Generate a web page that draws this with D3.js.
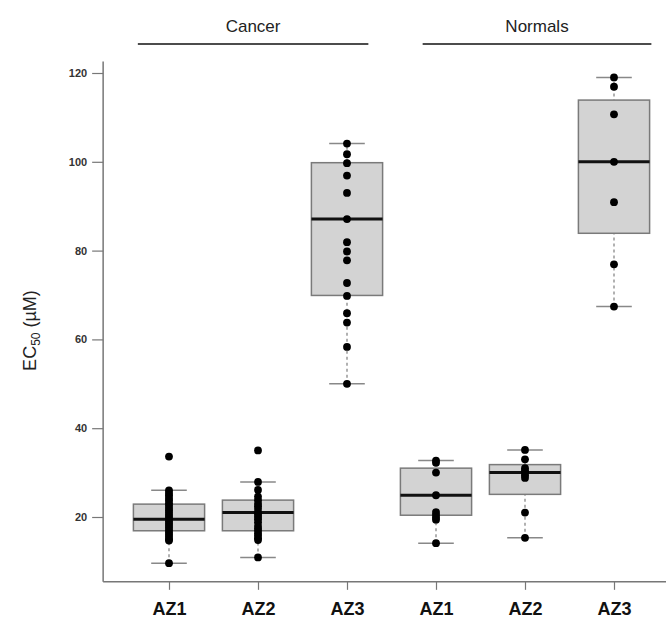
<!DOCTYPE html>
<html>
<head>
<meta charset="utf-8">
<script src="https://cdn.jsdelivr.net/npm/d3@7"></script>
<style>
  body { margin: 0; background: #fff; }
  svg { display: block; font-family: "Liberation Sans", Arial, sans-serif; }
</style>
</head>
<body>
<div id="wrapper"></div>
<script>
// categories along the x axis (group, compound)
const compounds = ["AZ1", "AZ2", "AZ3", "AZ1", "AZ2", "AZ3"]
const groups = [
  { name: "Cancer", from: 0.65, to: 3.24 },
  { name: "Normals", from: 3.85, to: 6.42 }
]

// box statistics: [whiskerLow, q1, median, q3, whiskerHigh]
const boxStats = [
  [9.6, 16.9, 19.5, 22.9, 26.0],
  [10.9, 16.9, 21.0, 23.8, 27.9],
  [50.0, 69.9, 87.1, 99.8, 104.1],
  [14.1, 20.4, 24.9, 31.0, 32.7],
  [15.3, 25.1, 30.0, 31.8, 35.1],
  [67.4, 83.9, 100.0, 113.9, 119.0]
]

// individual EC50 values (µM)
const cancerAZ1 = [33.6, 26.0, 25.4, 24.9, 24.3, 23.8, 23.1, 22.6, 22.0, 21.5, 21.0, 20.5,
  20.0, 19.5, 19.0, 18.5, 18.0, 17.5, 17.0, 16.5, 16.0, 15.5, 15.0, 14.7, 9.6]
const cancerAZ2 = [35.0, 27.9, 26.1, 24.6, 23.8, 23.0, 22.4, 21.8, 21.0, 20.5, 20.0, 19.5,
  18.8, 18.0, 17.4, 16.9, 16.3, 15.8, 15.2, 14.8, 10.9]
const cancerAZ3 = [104.1, 101.7, 99.7, 96.9, 93.0, 87.1, 81.9, 79.8, 77.8, 72.7, 69.8,
  65.9, 63.8, 58.3, 50.0]
const normalAZ1 = [32.7, 32.2, 30.0, 24.9, 21.1, 20.5, 19.9, 19.4, 14.1]
const normalAZ2 = [35.1, 33.0, 31.0, 30.4, 30.0, 29.4, 28.8, 21.0, 15.3]
const normalAZ3 = [119.0, 116.9, 110.7, 100.0, 90.9, 76.9, 67.4]
const points = [cancerAZ1, cancerAZ2, cancerAZ3, normalAZ1, normalAZ2, normalAZ3]

const yTicks = [20, 40, 60, 80, 100, 120]

const width = 666
const height = 630

const svg = d3.select("#wrapper")
  .append("svg")
    .attr("width", width)
    .attr("height", height)

const xScale = d3.scaleLinear()
    .domain([1, 6])
    .range([169, 614])

const yScale = d3.scaleLinear()
    .domain([20, 120])
    .range([517, 73])

const boxW = 0.8
const capW = 0.4
const xLo = 0.26, xHi = 6.74
const yLo = 5.4, yHi = 122.6

// axes
const yAxis = svg.append("g")
    .attr("transform", `translate(${xScale(xLo)},0)`)
    .call(d3.axisLeft(yScale).tickValues(yTicks).tickSize(11).tickPadding(5).tickSizeOuter(0))
yAxis.select(".domain").remove()
yAxis.append("line")
    .attr("y1", yScale(yLo)).attr("y2", yScale(yHi))
    .attr("stroke", "#777").attr("stroke-width", 1.5)
yAxis.selectAll(".tick line").attr("stroke", "#777").attr("stroke-width", 1.2)
yAxis.selectAll(".tick text")
    .attr("fill", "#333")
    .style("font-size", "11px")
    .style("font-weight", "bold")

const xAxis = svg.append("g")
    .attr("transform", `translate(0,${yScale(yLo)})`)
    .call(d3.axisBottom(xScale).tickValues(d3.range(1, 7)).tickFormat(i => compounds[i - 1])
      .tickSize(8).tickPadding(12).tickSizeOuter(0))
xAxis.select(".domain").remove()
xAxis.append("line")
    .attr("x1", xScale(xLo)).attr("x2", xScale(xHi))
    .attr("stroke", "#777").attr("stroke-width", 1.5)
xAxis.selectAll(".tick line").attr("stroke", "#777").attr("stroke-width", 1.2)
xAxis.selectAll(".tick text")
    .attr("fill", "#111")
    .style("font-size", "18px")
    .style("font-weight", "bold")

// y title
const yTitle = svg.append("text")
    .attr("transform", `translate(36,${yScale(62)}) rotate(-90)`)
    .attr("text-anchor", "middle")
    .attr("fill", "#222")
    .style("font-size", "18px")
yTitle.append("tspan").text("EC")
yTitle.append("tspan").attr("dy", 4).style("font-size", "12px").text("50")
yTitle.append("tspan").attr("dy", -4).text(" (µM)")

// group annotations
groups.forEach(g => {
  svg.append("line")
      .attr("x1", xScale(g.from)).attr("x2", xScale(g.to))
      .attr("y1", 44).attr("y2", 44)
      .attr("stroke", "#111").attr("stroke-width", 1.6)
  svg.append("text")
      .attr("x", (xScale(g.from) + xScale(g.to)) / 2)
      .attr("y", 32)
      .attr("text-anchor", "middle")
      .attr("fill", "#222")
      .style("font-size", "17px")
      .text(g.name)
})

// boxes
const boxes = svg.append("g")
  .selectAll("g")
  .data(boxStats)
  .join("g")

boxes.append("line")
    .attr("x1", (d, i) => xScale(i + 1)).attr("x2", (d, i) => xScale(i + 1))
    .attr("y1", d => yScale(d[0])).attr("y2", d => yScale(d[4]))
    .attr("stroke", "#888").attr("stroke-width", 1.3)
    .attr("stroke-dasharray", "3,3")

boxes.selectAll(".cap")
  .data((d, i) => [[i, d[0]], [i, d[4]]])
  .join("line")
    .attr("class", "cap")
    .attr("x1", d => xScale(d[0] + 1 - capW / 2)).attr("x2", d => xScale(d[0] + 1 + capW / 2))
    .attr("y1", d => yScale(d[1])).attr("y2", d => yScale(d[1]))
    .attr("stroke", "#888").attr("stroke-width", 1.5)

boxes.append("rect")
    .attr("x", (d, i) => xScale(i + 1 - boxW / 2))
    .attr("width", xScale(1 + boxW) - xScale(1))
    .attr("y", d => yScale(d[3]))
    .attr("height", d => yScale(d[1]) - yScale(d[3]))
    .attr("fill", "#d3d3d3")
    .attr("stroke", "#7a7a7a").attr("stroke-width", 1.5)

boxes.append("line")
    .attr("x1", (d, i) => xScale(i + 1 - boxW / 2)).attr("x2", (d, i) => xScale(i + 1 + boxW / 2))
    .attr("y1", d => yScale(d[2])).attr("y2", d => yScale(d[2]))
    .attr("stroke", "#111").attr("stroke-width", 3)

// points
svg.append("g")
  .selectAll("g")
  .data(points)
  .join("g")
  .selectAll("circle")
  .data((d, i) => d.map(v => [i, v]))
  .join("circle")
    .attr("cx", d => xScale(d[0] + 1))
    .attr("cy", d => yScale(d[1]))
    .attr("r", 3.9)
    .attr("fill", "#000")
</script>
</body>
</html>
